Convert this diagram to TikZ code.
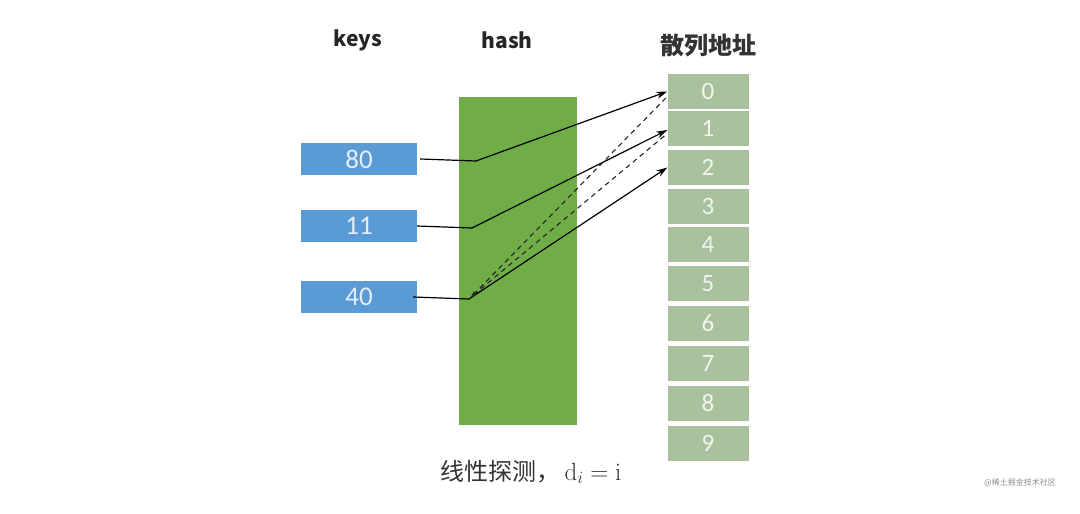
\documentclass[tikz,border=0pt]{standalone}
\usepackage[no-math]{fontspec}
\setmainfont{Carlito}
\newfontfamily\cjk{Noto Sans CJK SC}
\usetikzlibrary{arrows.meta}
\definecolor{keyblue}{HTML}{5B9BD5}
\definecolor{keytext}{HTML}{E4EEF8}
\definecolor{hashgreen}{HTML}{70AD47}
\definecolor{cellgreen}{HTML}{A9C19C}
\definecolor{celltext}{HTML}{F2F5EF}
\tikzset{
  keybox/.style={fill=keyblue, draw=none, minimum width=116pt, minimum height=32pt, inner sep=0pt,
    text=keytext, font=\fontsize{27}{28}\selectfont},
  cellbox/.style={fill=cellgreen, draw=none, minimum width=81pt, minimum height=35pt, inner sep=0pt,
    text=celltext, font=\fontsize{25}{26}\selectfont},
  head/.style={font=\cjk\bfseries\fontsize{21}{23}\selectfont, text=black!85},
  link/.style={draw=black, line width=1.2pt, -{Stealth[length=11pt,width=7pt]}},
  probe/.style={draw=black!85, line width=1.1pt, dash pattern=on 5pt off 4pt, {Stealth[length=6pt,width=4pt]}-},
}
\begin{document}
\begin{tikzpicture}[x=1pt,y=-1pt]
\useasboundingbox (0,0) rectangle (1080,514);
% headers
\node[head] (hkeys) at (358,40) {keys};
\node[head] (hhash) at (507,40) {hash};
\node[font=\cjk\bfseries\fontsize{24}{26}\selectfont, text=black!80] (haddr) at (708,45) {散列地址};
% hash block
\node[fill=hashgreen, draw=none, minimum width=118pt, minimum height=328pt, inner sep=0pt] (hash) at (518,261) {};
% keys
\node[keybox] (k80) at (359,159) {80};
\node[keybox] (k11) at (359,226) {11};
\node[keybox] (k40) at (359,297) {40};
% cells
\node[cellbox] (c0) at (708,91.5) {0};
\node[cellbox] (c1) at (708,128.5) {1};
\node[cellbox] (c2) at (708,167.5) {2};
\node[cellbox] (c3) at (708,206) {3};
\node[cellbox] (c4) at (708,244.5) {4};
\node[cellbox] (c5) at (708,283.5) {5};
\node[cellbox] (c6) at (708,323) {6};
\node[cellbox] (c7) at (708,363) {7};
\node[cellbox] (c8) at (708,403) {8};
\node[cellbox] (c9) at (708,443) {9};
% bend points inside hash
\coordinate (b80) at (476,161);
\coordinate (b11) at (472,228);
\coordinate (b40) at (469,299);
\coordinate (p40) at (471,297);
% connectors
\draw[link] ([xshift=3pt]k80.east) -- (b80) -- (c0.west);
\draw[link] (k11.east) -- (b11) -- ([yshift=-1.5pt]c1.west);
\draw[link] ([xshift=-4pt]k40.east) -- (b40) -- (c2.west);
\draw[probe] (p40) -- ([yshift=-5pt]c0.west);
\draw[probe] (p40) -- ([yshift=-5pt]c1.west);
% caption
\node[font=\fontsize{24}{26}\selectfont, text=black!80] (cap) at (531,472) {\cjk 线性探测，\,$\mathrm{d}_i = \mathrm{i}$};
% watermark
\node[font=\cjk\fontsize{8}{9}\selectfont, text=black!45] (wm) at (1020,483) {@稀土掘金技术社区};
\end{tikzpicture}
\end{document}
